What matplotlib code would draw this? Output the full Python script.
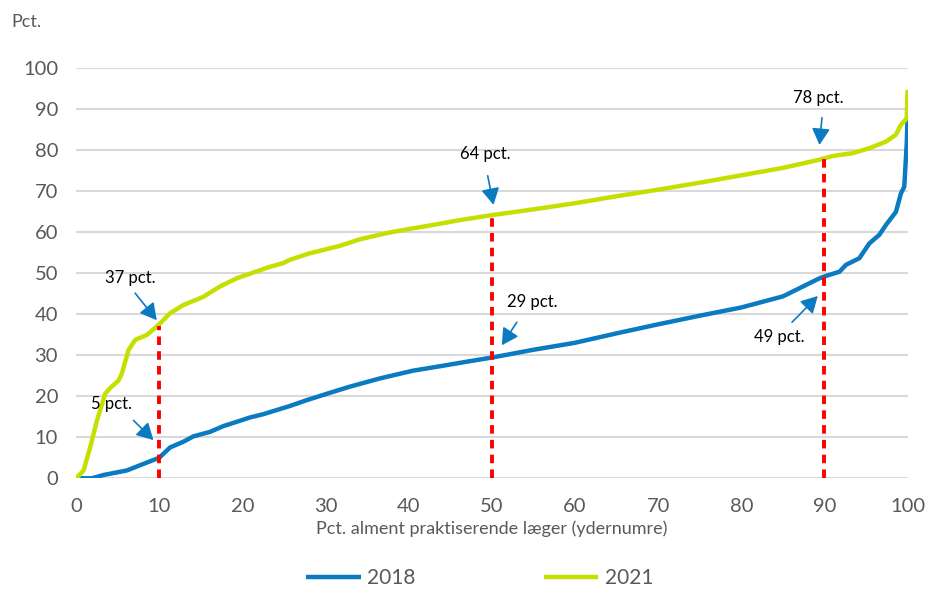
import matplotlib
matplotlib.use('Agg')
import matplotlib.pyplot as plt

plt.rcParams['font.family'] = ['Lato', 'DejaVu Sans']

# andel af ydernumre (x) og pct. (y)
x_2018 = [0, 1.9, 3.3, 6.1, 8.1, 10, 11.3, 12.9, 14.1, 16.1, 17.7, 19.7, 20.9, 22.5, 24.1, 25.7,
          27.7, 30.5, 32.9, 36.5, 40.5, 43.8, 47, 50, 55, 60, 65, 70, 75, 80, 85, 89.4, 90.2,
          91.8, 92.6, 94.2, 95.4, 96.6, 97.4, 98.6, 99.2, 99.6, 99.9, 100]
y_2018 = [0, 0, 0.8, 1.9, 3.5, 5, 7.5, 8.9, 10.2, 11.3, 12.7, 14, 14.8, 15.6, 16.6, 17.6,
          19, 20.8, 22.3, 24.3, 26.2, 27.3, 28.4, 29.4, 31.3, 33, 35.3, 37.5, 39.6, 41.6, 44.3, 48.7, 49.3,
          50.3, 52, 53.6, 57.2, 59.3, 61.7, 64.9, 69.4, 71, 81.6, 88]

x_2021 = [0, 0.9, 1.7, 2.5, 3.5, 4.1, 5.1, 5.5, 6.3, 7.1, 8.5, 9.9, 11.3, 12.9, 15.3, 17.3, 19.3,
          21.3, 23.3, 24.9, 25.7, 28.1, 30.5, 31.7, 34.1, 37.3, 39.7, 42.9, 46.2, 50.0, 55, 60, 65,
          70, 75, 80, 85, 89.4, 91, 93.4, 95.4, 97.4, 98.6, 99.2, 99.9, 100]
y_2021 = [0, 1.9, 7.6, 14, 20.6, 22, 23.8, 25.5, 31.2, 33.7, 34.9, 37.3, 40.2, 42.2, 44.2, 46.7, 48.7,
          50.1, 51.5, 52.4, 53.2, 54.8, 56, 56.6, 58.2, 59.7, 60.6, 61.7, 62.9, 64.1, 65.5, 67, 68.7,
          70.3, 72, 73.8, 75.6, 77.6, 78.5, 79.2, 80.4, 82, 83.7, 86.1, 87.7, 94.6]

# lodrette markeringer
mark_x = [10, 50, 90]
mark_top = [37, 64, 78]

# labels: tekst, tekstposition, pilens hale, pilens spids
labels = ['37 pct.', '5 pct.', '64 pct.', '29 pct.', '78 pct.', '49 pct.']
label_pos = [(6.5, 48.8), (4.3, 18.0), (49.2, 79.0), (54.8, 42.9), (89.2, 92.7), (84.6, 34.4)]
arrow_tail = [(7.1, 45.1), (6.9, 14.1), (49.5, 73.7), (53.0, 38.0), (89.7, 87.8), (86.1, 38.0)]
arrow_head = [(9.7, 38.5), (9.3, 9.3), (50.2, 66.6), (51.2, 32.4), (89.4, 81.2), (89.2, 44.4)]

blue = '#0a7bc1'
green = '#c5e000'
grey = '#595959'

fig = plt.figure(figsize=(9.28, 5.89), dpi=100)
ax = fig.add_axes([0.082, 0.188, 0.896, 0.697])

ax.plot(x_2018, y_2018, color=blue, lw=3.2, label='2018', solid_capstyle='butt')
ax.plot(x_2021, y_2021, color=green, lw=3.2, label='2021', solid_capstyle='butt')

for xv, top in zip(mark_x, mark_top):
    ax.plot([xv, xv], [0, top], color='#ff0000', lw=2.8, linestyle=(0, (2.2, 1.6)), zorder=3)

for txt, pos, tail, head in zip(labels, label_pos, arrow_tail, arrow_head):
    ax.text(pos[0], pos[1], txt, ha='center', va='center', fontsize=12, color='black')
    ax.annotate('', xy=head, xytext=tail,
                arrowprops=dict(arrowstyle='-|>,head_length=1.0,head_width=0.55',
                                color=blue, lw=1.2, shrinkA=0, shrinkB=0))

ax.set_xlim(0, 100)
ax.set_ylim(0, 100)
ax.set_xticks(range(0, 101, 10))
ax.set_yticks(range(0, 101, 10))
ax.grid(axis='y', color='#d9d9d9', lw=1.5)
ax.set_axisbelow(True)
for s in ax.spines.values():
    s.set_visible(False)
ax.tick_params(length=0, labelsize=14.5, colors=grey)
ax.tick_params(axis='y', pad=13)
ax.tick_params(axis='x', pad=14)
ax.set_xlabel('Pct. alment praktiserende læger (ydernumre)', fontsize=13, color=grey, labelpad=4)
fig.text(0.012, 0.962, 'Pct.', fontsize=13, color=grey, ha='left', va='center')

fig.legend(loc='lower center', ncol=2, frameon=False, fontsize=15, handlelength=2.6,
           handletextpad=0.3, columnspacing=6.2, bbox_to_anchor=(0.517, -0.03), labelcolor=grey)

fig.savefig('out.png', dpi=100)
